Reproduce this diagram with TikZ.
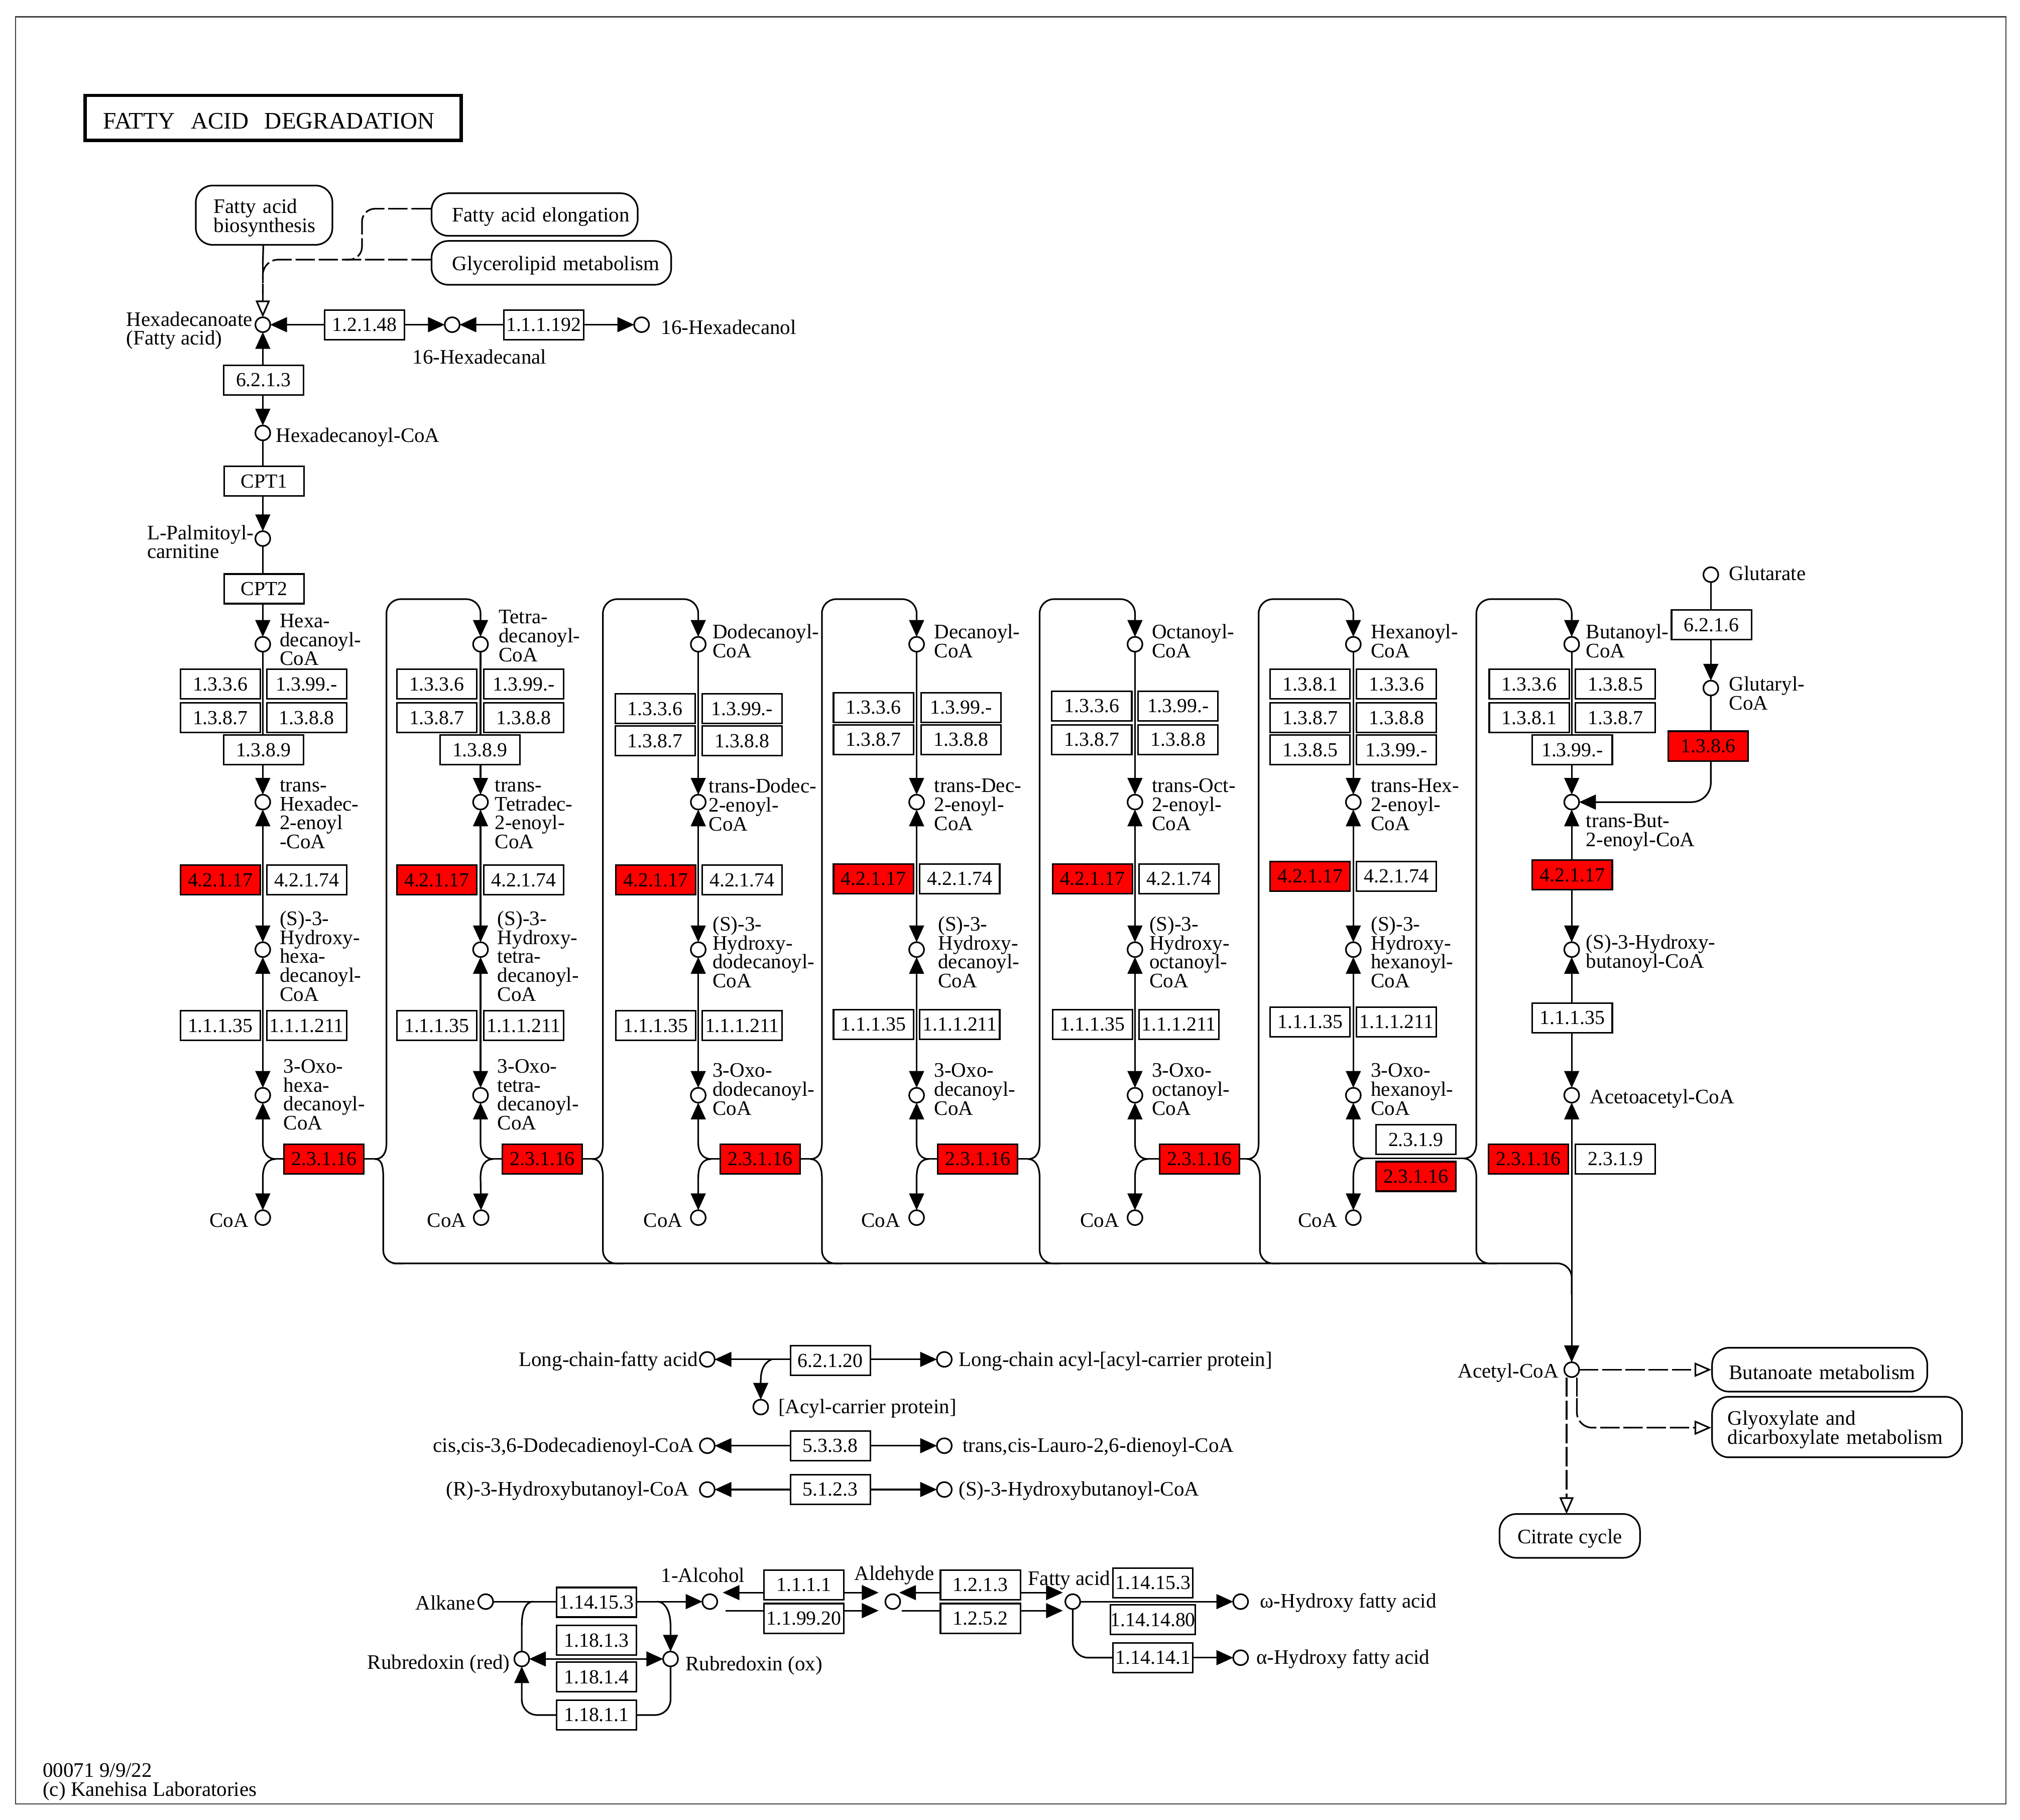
\documentclass[tikz,border=0pt]{standalone}
\usepackage{fontspec}
\setmainfont{Liberation Serif}
\usetikzlibrary{arrows.meta}
\pgfdeclarelayer{lines}
\pgfsetlayers{lines,main}
\newcounter{lb}
\tikzset{
  cn/.style={line width=1.25pt,draw=black},
  ar/.style={cn,-{Triangle[width=11.5pt,length=13pt]}},
  arb/.style={cn,{Triangle[width=11.5pt,length=13pt]}-{Triangle[width=11.5pt,length=13pt]}},
  arl/.style={cn,{Triangle[width=11.5pt,length=13pt]}-},
  da/.style={cn,dash pattern=on 15pt off 3pt,-{Triangle[open,fill=white,width=11pt,length=13pt]}},
  dl/.style={cn,dash pattern=on 15pt off 3pt},
  enzbox/.style={draw=black,line width=1.2pt,fill=white,rectangle,minimum width=62pt,minimum height=23pt,inner sep=0pt,font=\fontsize{15.5}{15}\selectfont},
  redbox/.style={enzbox,fill=red},
  metab/.style={circle,draw=black,line width=1.25pt,fill=white,minimum size=11.5pt,inner sep=0pt,outer sep=0pt},
  lbl/.style={anchor=west,align=left,inner sep=0pt,font=\fontsize{16}{14.7}\selectfont},
  rlbl/.style={anchor=east,align=right,inner sep=0pt,font=\fontsize{16}{14.7}\selectfont},
  pathbox/.style={draw=black,line width=1.25pt,fill=white,rounded corners=13pt,inner sep=0pt,align=left,font=\fontsize{16}{14.7}\selectfont},
}
\newcommand{\enz}[4]{\node[enzbox] (#1) at (#2,#3) {#4};}
\newcommand{\rez}[4]{\node[redbox] (#1) at (#2,#3) {#4};}
\newcommand{\met}[3]{\node[metab] (#1) at (#2,#3) {};}
\newcommand{\lab}[3]{\stepcounter{lb}\node[lbl] (l\thelb) at (#1,#2) {#3};}
\newcommand{\rlab}[3]{\stepcounter{lb}\node[rlbl] (l\thelb) at (#1,#2) {#3};}
\newcommand{\dn}{\rule{0pt}{15pt}}
% #1 junction, #2 vertical up x, #3 next-column x, #4 next-column circle, #5 vertical down x
\newcommand{\loopto}[5]{%
  \draw[cn] (#1) .. controls +(6,0) and (#2,895) .. (#2,887);
  \draw[ar,rounded corners=11pt] (#2,887) -- (#2,465) -- (#3,465) -- (#4);
  \draw[cn] (#1) .. controls +(5,0) and (#5,904) .. (#5,914);
  \draw[cn,rounded corners=10pt] (#5,914) -- (#5,980.5) -- ++(16,0);
}
% #1 junction, #2 spine x, #3 3-oxo circle, #4 CoA circle
\newcommand{\thiol}[4]{%
  \draw[ar] (#1) .. controls +(-6,0) and (#2,895) .. (#2,887) -- (#3);
  \draw[ar] (#1) .. controls +(-6,0) and (#2,904) .. (#2,914) -- (#4);
}
\begin{document}
\begin{tikzpicture}[x=1pt,y=-1pt]
\useasboundingbox (0,0) rectangle (1568,1412.1);
\node[draw=black!75,line width=1pt,minimum width=1545pt,minimum height=1387pt,inner sep=0pt] (frame) at (784.5,706.5) {};
\node[draw=black,line width=2.6pt,minimum width=292pt,minimum height=35pt,inner sep=0pt,text width=264pt,font=\fontsize{18.4}{20}\selectfont] (title) at (212,91.5) {\rule{0pt}{17pt}FATTY\ \ ACID\ \ DEGRADATION};

% pathway maps
\node[pathbox,minimum width=106pt,minimum height=46pt,text width=78pt] (fab) at (205,167) {\dn Fatty acid\\biosynthesis};
\node[pathbox,minimum width=160pt,minimum height=33pt,text width=128pt] (fae) at (415,166.5) {\dn\mbox{Fatty acid elongation}};
\node[pathbox,minimum width=186pt,minimum height=34pt,text width=154pt] (glm) at (428,204) {\dn\mbox{Glycerolipid metabolism}};
\node[pathbox,minimum width=167pt,minimum height=34pt,text width=141pt] (but) at (1412.5,1063) {\dn\mbox{Butanoate metabolism}};
\node[pathbox,minimum width=194pt,minimum height=47pt,text width=170pt] (gly) at (1426,1107.5) {\dn Glyoxylate and\\\mbox{dicarboxylate metabolism}};
\node[pathbox,minimum width=109pt,minimum height=34pt,align=center] (tca) at (1218.5,1192) {\dn Citrate cycle};

% top chain
\met{hda}{204}{252}
\met{hdl}{351}{252}
\met{hol}{498}{252}
\met{hcoa}{204}{336}
\met{pal}{204}{418}
\enz{e12148}{283}{252}{1.2.1.48}
\enz{e111192}{422}{252}{1.1.1.192}
\enz{e6213}{204.5}{295}{6.2.1.3}
\enz{cpta}{205}{373.5}{CPT1}
\enz{cptb}{205}{457}{CPT2}
\lab{98}{256.5}{Hexadecanoate\\(Fatty acid)}
\lab{320}{277}{16-Hexadecanal}
\lab{513}{254}{16-Hexadecanol}
\lab{214}{339.5}{Hexadecanoyl-CoA}
\lab{114}{420.5}{L-Palmitoyl-\\carnitine}

% metabolites of the seven columns
\met{c1a}{204}{500}\met{c1b}{204}{622.5}\met{c1c}{204}{737}\met{c1d}{204}{850}\met{c1e}{204}{945}
\met{c2a}{373}{500}\met{c2b}{373}{622.5}\met{c2c}{373}{737}\met{c2d}{373}{850}\met{c2e}{373.5}{945}
\met{c3a}{542}{500}\met{c3b}{542}{622.5}\met{c3c}{542}{737}\met{c3d}{542}{850}\met{c3e}{542}{945}
\met{c4a}{711.5}{500}\met{c4b}{711.5}{622.5}\met{c4c}{711.5}{737}\met{c4d}{711.5}{850}\met{c4e}{711.5}{945}
\met{c5a}{881}{500}\met{c5b}{881}{622.5}\met{c5c}{881}{737}\met{c5d}{881}{850}\met{c5e}{881}{945}
\met{c6a}{1050.5}{500}\met{c6b}{1050.5}{622.5}\met{c6c}{1050.5}{737}\met{c6d}{1050.5}{850}\met{c6e}{1050.5}{945}
\met{c7a}{1220}{500}\met{c7b}{1220}{622.5}\met{c7c}{1220}{737}\met{c7d}{1220}{850}\met{acet}{1220}{1063}
\met{gtr}{1328}{446}\met{gcoa}{1328}{534}

% column 1
\enz{a1}{171}{531}{1.3.3.6}\enz{a2}{238}{531}{1.3.99.-}
\enz{a3}{171}{557}{1.3.8.7}\enz{a4}{238}{557}{1.3.8.8}
\enz{a5}{204.5}{582}{1.3.8.9}
\rez{a6}{171}{683}{4.2.1.17}\enz{a7}{238}{683}{4.2.1.74}
\enz{a8}{171}{796}{1.1.1.35}\enz{a9}{238}{796}{1.1.1.211}
\rez{a10}{251.5}{899.5}{2.3.1.16}
\lab{217}{496.5}{Hexa-\\decanoyl-\\CoA}
\lab{217}{632}{trans-\\Hexadec-\\2-enoyl\\-CoA}
\lab{217}{742}{(S)-3-\\Hydroxy-\\hexa-\\decanoyl-\\CoA}
\lab{220}{849.5}{3-Oxo-\\hexa-\\decanoyl-\\CoA}
\rlab{193}{947}{CoA}
% column 2
\enz{b1}{339}{531}{1.3.3.6}\enz{b2}{406.5}{531}{1.3.99.-}
\enz{b3}{339}{557}{1.3.8.7}\enz{b4}{406.5}{557}{1.3.8.8}
\enz{b5}{372.5}{582}{1.3.8.9}
\rez{b6}{339}{683}{4.2.1.17}\enz{b7}{406.5}{683}{4.2.1.74}
\enz{b8}{339}{796}{1.1.1.35}\enz{b9}{406.5}{796}{1.1.1.211}
\rez{b10}{421}{899.5}{2.3.1.16}
\lab{387}{493.5}{Tetra-\\decanoyl-\\CoA}
\lab{384}{632}{trans-\\Tetradec-\\2-enoyl-\\CoA}
\lab{386}{742}{(S)-3-\\Hydroxy-\\tetra-\\decanoyl-\\CoA}
\lab{386}{849.5}{3-Oxo-\\tetra-\\decanoyl-\\CoA}
\rlab{362}{947}{CoA}
% column 3
\enz{d1}{508.5}{550}{1.3.3.6}\enz{d2}{576}{550}{1.3.99.-}
\enz{d3}{508.5}{575}{1.3.8.7}\enz{d4}{576}{575}{1.3.8.8}
\rez{d6}{509}{683}{4.2.1.17}\enz{d7}{576}{683}{4.2.1.74}
\enz{d8}{509}{796}{1.1.1.35}\enz{d9}{576}{796}{1.1.1.211}
\rez{d10}{590}{899.5}{2.3.1.16}
\lab{553}{497.5}{Dodecanoyl-\\CoA}
\lab{550}{624.5}{trans-Dodec-\\2-enoyl-\\CoA}
\lab{553}{739}{(S)-3-\\Hydroxy-\\dodecanoyl-\\CoA}
\lab{553}{845.5}{3-Oxo-\\dodecanoyl-\\CoA}
\rlab{530}{947}{CoA}
% column 4
\enz{f1}{678}{549}{1.3.3.6}\enz{f2}{746}{549}{1.3.99.-}
\enz{f3}{678}{574}{1.3.8.7}\enz{f4}{746}{574}{1.3.8.8}
\rez{f6}{678}{682}{4.2.1.17}\enz{f7}{745}{682}{4.2.1.74}
\enz{f8}{678}{795}{1.1.1.35}\enz{f9}{745}{795}{1.1.1.211}
\rez{f10}{759}{899.5}{2.3.1.16}
\lab{725}{497.5}{Decanoyl-\\CoA}
\lab{725}{624.5}{trans-Dec-\\2-enoyl-\\CoA}
\lab{728}{739}{(S)-3-\\Hydroxy-\\decanoyl-\\CoA}
\lab{725}{845.5}{3-Oxo-\\decanoyl-\\CoA}
\rlab{699}{947}{CoA}
% column 5
\enz{g1}{847.5}{548}{1.3.3.6}\enz{g2}{914.5}{548}{1.3.99.-}
\enz{g3}{847.5}{574}{1.3.8.7}\enz{g4}{914.5}{574}{1.3.8.8}
\rez{g6}{848}{682}{4.2.1.17}\enz{g7}{915}{682}{4.2.1.74}
\enz{g8}{848}{795}{1.1.1.35}\enz{g9}{915}{795}{1.1.1.211}
\rez{g10}{931}{899.5}{2.3.1.16}
\lab{894}{497.5}{Octanoyl-\\CoA}
\lab{894}{624.5}{trans-Oct-\\2-enoyl-\\CoA}
\lab{892}{739}{(S)-3-\\Hydroxy-\\octanoyl-\\CoA}
\lab{894}{845.5}{3-Oxo-\\octanoyl-\\CoA}
\rlab{869}{947}{CoA}
% column 6
\enz{h1}{1017}{531}{1.3.8.1}\enz{h2}{1084}{531}{1.3.3.6}
\enz{h3}{1017}{557}{1.3.8.7}\enz{h4}{1084}{557}{1.3.8.8}
\enz{h5}{1017}{582}{1.3.8.5}\enz{h5b}{1084}{582}{1.3.99.-}
\rez{h6}{1017}{680}{4.2.1.17}\enz{h7}{1084}{680}{4.2.1.74}
\enz{h8}{1017}{793}{1.1.1.35}\enz{h9}{1084}{793}{1.1.1.211}
\enz{h11}{1099}{884.5}{2.3.1.9}\rez{h10}{1099}{913}{2.3.1.16}
\lab{1064}{497.5}{Hexanoyl-\\CoA}
\lab{1064}{624.5}{trans-Hex-\\2-enoyl-\\CoA}
\lab{1064}{739}{(S)-3-\\Hydroxy-\\hexanoyl-\\CoA}
\lab{1064}{845.5}{3-Oxo-\\hexanoyl-\\CoA}
\rlab{1038}{947}{CoA}
% column 7
\enz{k1}{1187}{531}{1.3.3.6}\enz{k2}{1254}{531}{1.3.8.5}
\enz{k3}{1187}{557}{1.3.8.1}\enz{k4}{1254}{557}{1.3.8.7}
\enz{k5}{1220.5}{582}{1.3.99.-}
\rez{k6}{1220.5}{679}{4.2.1.17}
\enz{k8}{1220.5}{790}{1.1.1.35}
\rez{k10}{1186.5}{899.5}{2.3.1.16}\enz{k11}{1254}{899.5}{2.3.1.9}
\lab{1231}{497.5}{Butanoyl-\\CoA}
\lab{1231}{646}{trans-But-\\2-enoyl-CoA}
\lab{1231}{740}{(S)-3-Hydroxy-\\butanoyl-CoA}
\lab{1234}{852.5}{Acetoacetyl-CoA}
\rlab{1210}{1065.5}{Acetyl-CoA}
% glutarate branch
\enz{m1}{1328.5}{485}{6.2.1.6}\rez{m2}{1326}{579}{1.3.8.6}
\lab{1342}{445}{Glutarate}
\lab{1342}{538}{Glutaryl-\\CoA}

% lower reactions
\met{lcf}{549}{1055}\met{lcp}{733}{1055}\met{acp}{590.5}{1092}
\enz{n1}{644.5}{1056}{6.2.1.20}
\rlab{542}{1056.5}{Long-chain-fatty acid}
\lab{744}{1056.5}{Long-chain acyl-[acyl-carrier protein]}
\lab{604}{1093}{[Acyl-carrier protein]}
\met{ccd}{549}{1122}\met{tcl}{733}{1122}
\enz{n2}{644.5}{1122}{5.3.3.8}
\rlab{539}{1123}{cis,cis-3,6-Dodecadienoyl-CoA}
\lab{747}{1123}{trans,cis-Lauro-2,6-dienoyl-CoA}
\met{rhb}{549}{1156}\met{shb}{733}{1156}
\enz{n3}{644.5}{1156}{5.1.2.3}
\rlab{535}{1157}{(R)-3-Hydroxybutanoyl-CoA}
\lab{744}{1157}{(S)-3-Hydroxybutanoyl-CoA}

% alkane block
\met{alk}{377}{1243}\met{alc}{551}{1243}\met{ald}{693}{1243}\met{fa}{832.7}{1243}
\met{oh1}{963}{1243}\met{oh2}{963}{1286.5}\met{rr}{405}{1287.5}\met{ro}{520.5}{1287.5}
\enz{p1}{463}{1243.5}{1.14.15.3}
\enz{p2}{463}{1273}{1.18.1.3}\enz{p3}{463}{1301.5}{1.18.1.4}\enz{p4}{463}{1331}{1.18.1.1}
\enz{q1}{624}{1230}{1.1.1.1}\enz{q2}{624}{1256}{1.1.99.20}
\enz{q3}{761}{1230}{1.2.1.3}\enz{q4}{761}{1256}{1.2.5.2}
\enz{r1}{895}{1228.5}{1.14.15.3}\enz{r2}{895}{1257}{1.14.14.80}\enz{r3}{895}{1286.5}{1.14.14.1}
\rlab{369}{1244}{Alkane}
\lab{513}{1222.5}{1-Alcohol}
\lab{663}{1222.5}{Aldehyde}
\lab{798}{1226.5}{Fatty acid}
\rlab{396}{1291.5}{Rubredoxin (red)}
\lab{532}{1292.5}{Rubredoxin (ox)}
\lab{978}{1244}{ω-Hydroxy fatty acid}
\lab{975}{1287.5}{α-Hydroxy fatty acid}

% footer
\lab{33}{1383}{00071 9/9/22\\(c) Kanehisa Laboratories}

% free ends and junctions
\coordinate (j1r) at (291,899.5);\coordinate (j1l) at (214,899.5);
\coordinate (j2r) at (460,899.5);\coordinate (j2l) at (383,899.5);
\coordinate (j3r) at (629,899.5);\coordinate (j3l) at (552,899.5);
\coordinate (j4r) at (798,899.5);\coordinate (j4l) at (721,899.5);
\coordinate (j5r) at (968,899.5);\coordinate (j5l) at (891,899.5);
\coordinate (j6r) at (1136,899);\coordinate (j6l) at (1060,899);
\coordinate (hdj) at (204,205);
\coordinate (ua) at (561,1236);\coordinate (ub) at (682,1236);
\coordinate (la) at (563,1250);\coordinate (lb) at (682,1250);
\coordinate (ub2) at (698,1236);\coordinate (uc) at (825,1236);
\coordinate (lb2) at (700,1250);\coordinate (lc) at (825,1250);

\begin{pgfonlayer}{lines}
% top chain
\draw[dl] (fab) -- (hdj);
\draw[da] (hdj) -- (hda);
\draw[dl,rounded corners=12pt] (glm.west |- 0,201.5) -- (204,201.5) -- (204,228);
\draw[dl,rounded corners=10pt] (fae.west |- 0,162) -- (281,162) -- (281,201.5) -- (268,201.5);
\draw[arb] (hda) -- (hdl);
\draw[arb] (hdl) -- (hol);
\draw[arb] (hda) -- (hcoa);
\draw[ar] (hcoa) -- (pal);
\draw[ar] (pal) -- (c1a);
% columns
\foreach \c in {1,2,3,4,5,6,7}{
  \draw[ar] (c\c a) -- (c\c b);
  \draw[arb] (c\c b) -- (c\c c);
  \draw[arb] (c\c c) -- (c\c d);
}
\draw[cn] (a10) -- (j1l);\draw[cn] (a10) -- (j1r);
\draw[cn] (b10) -- (j2l);\draw[cn] (b10) -- (j2r);
\draw[cn] (d10) -- (j3l);\draw[cn] (d10) -- (j3r);
\draw[cn] (f10) -- (j4l);\draw[cn] (f10) -- (j4r);
\draw[cn] (g10) -- (j5l);\draw[cn] (g10) -- (j5r);
\draw[cn] (j6l) -- (j6r);
\thiol{j1l}{204}{c1d}{c1e}
\thiol{j2l}{373}{c2d}{c2e}
\thiol{j3l}{542}{c3d}{c3e}
\thiol{j4l}{711.5}{c4d}{c4e}
\thiol{j5l}{881}{c5d}{c5e}
\thiol{j6l}{1050.5}{c6d}{c6e}
\loopto{j1r}{300}{373}{c2a}{297.5}
\loopto{j2r}{468}{542}{c3a}{468}
\loopto{j3r}{638}{711.5}{c4a}{638}
\loopto{j4r}{807}{881}{c5a}{807}
\loopto{j5r}{977}{1050.5}{c6a}{978}
\loopto{j6r}{1146}{1220}{c7a}{1146}
\draw[cn,rounded corners=11pt] (305,980.5) -- (1220,980.5) -- (1220,1005);
\draw[arb] (c7d) -- (acet);
% glutarate
\draw[ar] (gtr) -- (gcoa);
\draw[ar,rounded corners=15pt] (gcoa) -- (1328,622.5) -- (c7b);
% acetyl-CoA
\draw[da] (acet) -- (but);
\draw[dl] (1224,1069) -- (1224,1085);
\draw[da,rounded corners=12pt] (1224,1085) -- (1224,1108) -- (gly.west |- 0,1108);
\draw[da] (1216,1069) -- (1216,1175);
% lower
\draw[arb] (lcf) -- (lcp);
\draw[ar] (599,1055) .. controls (592,1058) and (590.5,1065) .. (590.5,1072) -- (acp);
\draw[arb] (ccd) -- (tcl);
\draw[arb] (rhb) -- (shb);
% alkane block
\draw[ar] (alk) -- (alc);
\draw[cn] (414,1243) .. controls (408,1243) and (405,1250) .. (405,1262) -- (rr);
\draw[ar] (510,1243) .. controls (516,1243) and (520.5,1250) .. (520.5,1262) -- (ro);
\draw[arb] (rr) -- (ro);
\draw[arl,rounded corners=12pt] (rr) -- (405,1331) -- (p4);
\draw[cn,rounded corners=12pt] (ro) -- (520.5,1331) -- (p4);
\draw[arb] (ua) -- (ub);
\draw[ar] (la) -- (lb);
\draw[arb] (ub2) -- (uc);
\draw[ar] (lb2) -- (lc);
\draw[ar] (fa) -- (oh1);
\draw[cn,rounded corners=12pt] (fa) -- (832.7,1286.5) -- (r3);
\draw[ar] (r3) -- (oh2);
\end{pgfonlayer}
\end{tikzpicture}
\end{document}
